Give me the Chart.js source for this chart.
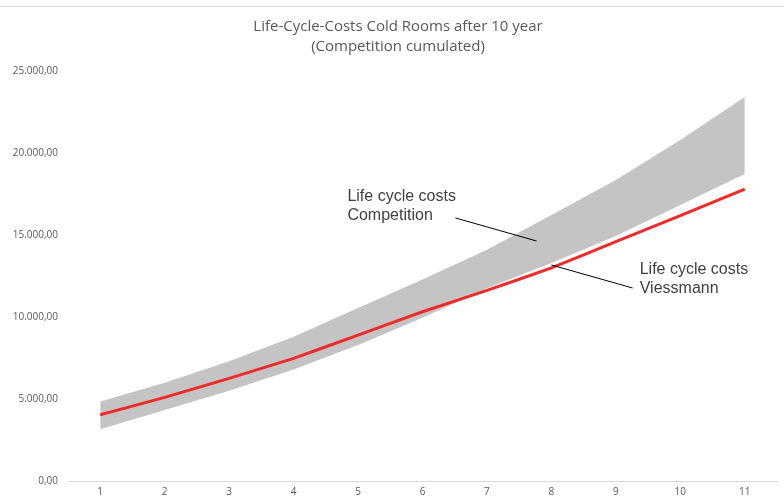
<!DOCTYPE html>
<html>
<head>
<meta charset="utf-8">
<script src="https://cdn.jsdelivr.net/npm/chart.js@4/dist/chart.umd.min.js"></script>
<style>
  html, body { margin: 0; padding: 0; background: #fff; }
  #wrap { width: 784px; height: 500px; position: relative; }
</style>
</head>
<body>
<div id="wrap"><canvas id="myChart"></canvas></div>
<script>
// values
const years = ["1", "2", "3", "4", "5", "6", "7", "8", "9", "10", "11"];
const competitionLow = [3150, 4330, 5510, 6800, 8300, 9950, 11750, 13290, 14940, 16830, 18720];
const competitionHigh = [4840, 5990, 7300, 8800, 10550, 12280, 14100, 16220, 18350, 20800, 23420];
const viessmann = [4040, 5100, 6260, 7480, 8900, 10320, 11620, 12990, 14590, 16180, 17800];
const titleLines = ["Life-Cycle-Costs Cold Rooms after 10 year", "(Competition cumulated)"];

// annotation anchors in data units: [x index, value]
const notes = [
    { lines: ["Life cycle costs", "Competition"], at: [3.835, 17317], lead: [[5.51, 16040], [6.77, 14634]] },
    { lines: ["Life cycle costs", "Viessmann"], at: [8.37, 12866], lead: [[7.0, 13171], [8.26, 11768]] }
];

const fmt = v => v.toLocaleString("de-DE", { minimumFractionDigits: 2, maximumFractionDigits: 2 });

const notePlugin = {
    id: "notes",
    beforeDraw(chart) {
        // title sits a bit right of the canvas centre, like the original
        const ctx = chart.ctx;
        ctx.save();
        ctx.strokeStyle = "#d9d9d9";
        ctx.lineWidth = 1;
        ctx.beginPath();
        ctx.moveTo(0, 6.5);
        ctx.lineTo(chart.width, 6.5);
        ctx.stroke();
        ctx.fillStyle = "#595959";
        ctx.font = "15px 'Open Sans', sans-serif";
        ctx.textAlign = "center";
        ctx.textBaseline = "middle";
        titleLines.forEach((t, i) => ctx.fillText(t, 398, 27 + i * 20));
        ctx.restore();
    },
    afterDatasetsDraw(chart) {
        const { ctx, scales: { x, y } } = chart;
        ctx.save();
        notes.forEach(n => {
            ctx.strokeStyle = "#000";
            ctx.lineWidth = 1;
            ctx.beginPath();
            ctx.moveTo(x.getPixelForValue(n.lead[0][0]), y.getPixelForValue(n.lead[0][1]));
            ctx.lineTo(x.getPixelForValue(n.lead[1][0]), y.getPixelForValue(n.lead[1][1]));
            ctx.stroke();
            ctx.fillStyle = "#404040";
            ctx.font = "16px 'Liberation Sans', Arial, sans-serif";
            ctx.textBaseline = "middle";
            ctx.textAlign = "left";
            const px = x.getPixelForValue(n.at[0]);
            const py = y.getPixelForValue(n.at[1]);
            n.lines.forEach((t, i) => ctx.fillText(t, px, py + i * 19));
        });
        ctx.restore();
    }
};

const ctx = document.getElementById("myChart").getContext("2d");
new Chart(ctx, {
    type: "line",
    data: {
        labels: years,
        datasets: [
            // first in list so it is painted on top
            { label: "Viessmann", data: viessmann, borderColor: "#ee2a2a", borderWidth: 3, pointRadius: 0,
              fill: false, tension: 0.1 },
            { label: "low", data: competitionLow, borderWidth: 0, pointRadius: 0, fill: false, tension: 0 },
            { label: "Competition", data: competitionHigh, borderWidth: 0, pointRadius: 0, fill: 1,
              backgroundColor: "#c4c4c4", tension: 0 }
        ]
    },
    options: {
        responsive: true,
        maintainAspectRatio: false,
        animation: false,
        layout: { padding: { top: 71, right: 7, bottom: 0, left: 0 } },
        plugins: {
            legend: { display: false },
            tooltip: { enabled: false },
            title: { display: false }
        },
        scales: {
            x: {
                offset: true,
                grid: { display: false, drawTicks: false },
                border: { color: "#d9d9d9", width: 1 },
                ticks: { color: "#595959", font: { family: "'Open Sans', sans-serif", size: 10 }, padding: 5, maxRotation: 0 },
                afterFit(s) { s.height = 19; }
            },
            y: {
                min: 0,
                max: 25000,
                grid: { display: false, drawTicks: false },
                border: { display: false },
                ticks: { stepSize: 5000, color: "#595959", padding: 10,
                         font: { family: "'Open Sans', sans-serif", size: 10 }, callback: v => fmt(v) },
                afterFit(s) { s.width = 68; }
            }
        }
    },
    plugins: [notePlugin]
});
</script>
</body>
</html>
